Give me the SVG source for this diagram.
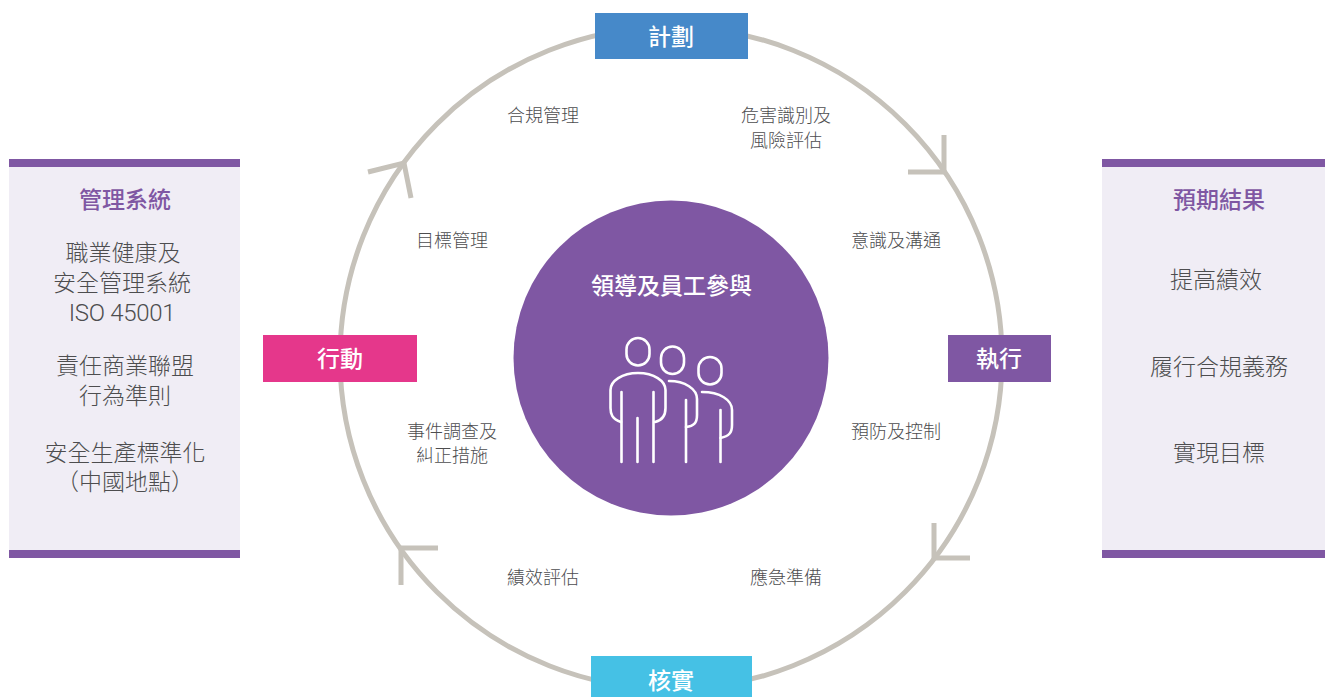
<svg xmlns="http://www.w3.org/2000/svg" width="1325" height="697" viewBox="0 0 1325 697">
<style>
text{font-family:"Noto Sans CJK TC","Noto Sans CJK SC",sans-serif;text-anchor:middle}
.lab{font-size:18px;fill:#4d4d4f;font-weight:300}
.side{font-size:23px;fill:#4d4d4f;font-weight:300}
.lat{font-family:Roboto,"Liberation Sans",sans-serif;font-size:24px;fill:#4d4d4f;font-weight:300;letter-spacing:-.3px}
.head{font-size:23px;fill:#7f57a3;font-weight:500}
.tag{font-size:23px;fill:#fff;font-weight:500}
.ring{fill:none;stroke:#c6c2ba;stroke-width:5}
.ic{fill:none;stroke:#fff;stroke-width:2.6;stroke-linecap:round;stroke-linejoin:round}
.panel{fill:#f0edf5}
.bar{fill:#7f57a3}
</style>
<g id="connectors">
<circle class="ring" cx="671" cy="358" r="331"/>
<path class="ring" d="M944 135V172H908"/>
<path class="ring" d="M970 558H934V523"/>
<path class="ring" d="M401 585V548H438"/>
<path class="ring" d="M368 172L404 163L411 198"/>
</g>
<g id="center">
<circle cx="671" cy="358" r="157.500" fill="#7f57a3"/>
<text x="671.500" y="294" font-size="23" font-weight="500" fill="#fff">領導及員工參與</text>
<g class="ic">
<rect x="626.500" y="338" width="23" height="27.500" rx="11.500"/>
<rect x="661" y="346.500" width="23" height="27.500" rx="11.500"/>
<rect x="698.500" y="357" width="23" height="27.500" rx="11.500"/>
<path d="M621 422C612 419 610.500 414 610.500 408V390C610.500 381 622 373 638 373C654 373 665.500 381 665.500 390V408C665.500 414 664 420 655 422"/>
<path d="M621.500 392V462M637.500 418V462M653.500 392V462"/>
<path d="M669 381C685 381 697 389 697 399V415C697 423 694 426 686 427"/>
<path d="M686 400V462"/>
<path d="M702 392C720 392 732 400 732 410V425C732 433 729 436 720.500 438"/>
<path d="M720.500 410V462"/>
</g>
</g>
<g id="plan"><rect x="595" y="13" width="153" height="46" fill="#4689c9"/><text class="tag" x="671" y="45">計劃</text></g>
<g id="do"><rect x="948" y="335" width="103" height="47" fill="#7f57a3"/><text class="tag" x="999" y="367">執行</text></g>
<g id="check"><rect x="591" y="656" width="161" height="41" fill="#45c1e5"/><text class="tag" x="671" y="689">核實</text></g>
<g id="act"><rect x="263" y="335" width="154" height="47" fill="#e5378b"/><text class="tag" x="340" y="367">行動</text></g>
<g id="step-compliance"><text class="lab" x="543" y="122">合規管理</text></g>
<g id="step-hazard"><text class="lab" x="786" y="122">危害識別及</text><text class="lab" x="786" y="147">風險評估</text></g>
<g id="step-objectives"><text class="lab" x="452" y="247">目標管理</text></g>
<g id="step-awareness"><text class="lab" x="896" y="247">意識及溝通</text></g>
<g id="step-incident"><text class="lab" x="452" y="438">事件調查及</text><text class="lab" x="452" y="462">糾正措施</text></g>
<g id="step-prevention"><text class="lab" x="896" y="438">預防及控制</text></g>
<g id="step-performance"><text class="lab" x="543" y="584">績效評估</text></g>
<g id="step-emergency"><text class="lab" x="786" y="584">應急準備</text></g>
<g id="management-systems">
<rect class="panel" x="9" y="159" width="231" height="399"/>
<rect class="bar" x="9" y="159" width="231" height="8"/>
<rect class="bar" x="9" y="550" width="231" height="8"/>
<text class="head" x="125" y="208">管理系統</text>
<text class="side" x="123" y="261">職業健康及</text>
<text class="side" x="122" y="291">安全管理系統</text>
<text class="lat" x="122" y="321">ISO 45001</text>
<text class="side" x="125" y="374">責任商業聯盟</text>
<text class="side" x="125" y="404">行為準則</text>
<text class="side" x="125" y="461">安全生產標準化</text>
<text class="side" x="125" y="490">（中國地點）</text>
</g>
<g id="outcomes">
<rect class="panel" x="1102" y="159" width="223" height="399"/>
<rect class="bar" x="1102" y="159" width="223" height="8"/>
<rect class="bar" x="1102" y="550" width="223" height="8"/>
<text class="head" x="1219" y="208">預期結果</text>
<text class="side" x="1216" y="288">提高績效</text>
<text class="side" x="1219" y="375">履行合規義務</text>
<text class="side" x="1219" y="461">實現目標</text>
</g>
</svg>
